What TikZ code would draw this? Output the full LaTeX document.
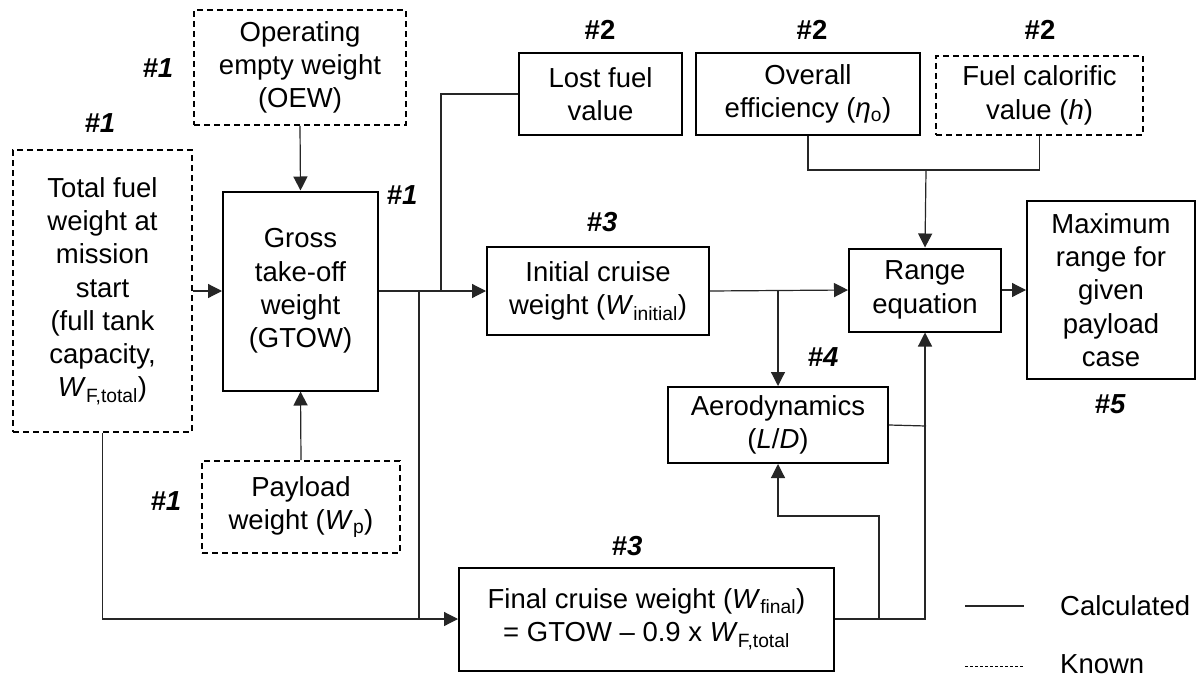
\documentclass[tikz,border=0pt]{standalone}
\usepackage{fontspec}
\setmainfont{Liberation Sans}
\usetikzlibrary{arrows.meta}
\newcommand\dfont{\fontsize{27.5}{33.3}\selectfont}
\begin{document}
\begin{tikzpicture}[x=1pt,y=-1pt,
  box/.style={draw, line width=2pt, align=center, inner sep=0pt, font=\dfont},
  known/.style={box, line width=1.8pt, dash pattern=on 6pt off 4pt},
  conn/.style={line width=1.2pt, draw=black!85},
  arr/.style={conn, -{Triangle[length=14pt,width=14pt]}},
  tag/.style={font=\dfont\bfseries\itshape},
  tagup/.style={font=\dfont\bfseries},
  legtext/.style={font=\dfont, anchor=base west, inner sep=0pt, text depth=0pt}]
\useasboundingbox[fill=white] (0,0) rectangle (1196,677);

% boxes
\node[known, minimum width=212pt, minimum height=115pt] (oew) at (300,67.5) {Operating\\empty weight\\(OEW)};
\node[known, minimum width=179pt, minimum height=282pt] (tfw) at (102.5,291) {Total fuel\\weight at\\mission\\start\\(full tank\\capacity,\\\textit{W}\textsubscript{F,total})};
\node[box, minimum width=155pt, minimum height=199pt] (gtow) at (300.5,291) {Gross\\take-off\\weight\\(GTOW)};
\node[known, minimum width=198pt, minimum height=92pt] (pay) at (301,507) {Payload\\weight (\textit{W}\textsubscript{p})};
\node[box, minimum width=163pt, minimum height=82pt] (lost) at (600.5,94) {Lost fuel\\value};
\node[box, minimum width=224pt, minimum height=82pt] (eff) at (808,94) {Overall\\efficiency (\textit{η}\textsubscript{o})};
\node[known, minimum width=207pt, minimum height=79pt] (cal) at (1039.5,95.5) {Fuel calorific\\value (\textit{h})};
\node[box, minimum width=222pt, minimum height=88pt] (init) at (598,291) {Initial cruise\\weight (\textit{W}\textsubscript{initial})};
\node[box, minimum width=152pt, minimum height=83pt] (range) at (925,290) {Range\\equation};
\node[box, minimum width=168pt, minimum height=178pt] (maxr) at (1111,290) {Maximum\\range for\\given\\payload\\case};
\node[box, minimum width=220pt, minimum height=76pt] (aero) at (778,425) {Aerodynamics\\(\textit{L}/\textit{D})};
\node[box, minimum width=375pt, minimum height=103pt] (final) at (646.5,619) {Final cruise weight (\textit{W}\textsubscript{final})\\= GTOW – 0.9 x \textit{W}\textsubscript{F,total}};

% tags
\node[tag] (t1a) at (158,68) {\#1};
\node[tag] (t1b) at (100,123) {\#1};
\node[tag] (t1c) at (402,195) {\#1};
\node[tag] (t1d) at (166,501) {\#1};
\node[tagup] (t2a) at (600,30) {\#2};
\node[tagup] (t2b) at (812,30) {\#2};
\node[tagup] (t2c) at (1040,30) {\#2};
\node[tag] (t3a) at (602,222) {\#3};
\node[tag] (t3b) at (627,546) {\#3};
\node[tag] (t4) at (823,357) {\#4};
\node[tag] (t5) at (1110,404) {\#5};

% junction coordinates
\coordinate (jlost) at (441,291);
\coordinate (jdown) at (419,291);
\coordinate (jfin) at (419,619);
\coordinate (jaero) at (778,291);
\coordinate (jtop) at (926,170);
\coordinate (jcal) at (1039.5,170);
\coordinate (jar) at (926,426);
\coordinate (jfa) at (879,619);
\coordinate (jfa3) at (778,516);

% connectors
\draw[arr] (oew.south) -- (gtow.north);
\draw[arr] (pay.north) -- (gtow.south);
\draw[arr] (tfw.east) -- (gtow.west);
\draw[arr] (gtow.east) -- (init.west);
\draw[conn] (lost.west) -| (jlost);
\draw[conn] (jdown) -- (jfin);
\draw[arr] (tfw.south) |- (final.west);
\draw[arr] (init.east) -- (range.west);
\draw[arr] (jaero) -- (aero.north);
\draw[conn] (eff.south) |- (jcal) -- (cal.south);
\draw[arr] (jtop) -- (range.north);
\draw[arr] (range.east) -- (maxr.west);
\draw[arr] (final.east) -| (range.south);
\draw[arr] (jfa) |- (jfa3) -- (aero.south);
\draw[conn] (aero.east) -- (jar);

% legend
\coordinate (l1a) at (965,606);
\coordinate (l1b) at (1024,606);
\coordinate (l2a) at (965,666);
\coordinate (l2b) at (1024,666);
\draw[conn] (l1a) -- (l1b);
\draw[line width=1pt, dash pattern=on 3pt off 2pt] (l2a) -- (l2b);
\node[legtext] (lc) at (1060,615) {Calculated};
\node[legtext] (lk) at (1060,673) {Known};
\end{tikzpicture}
\end{document}
